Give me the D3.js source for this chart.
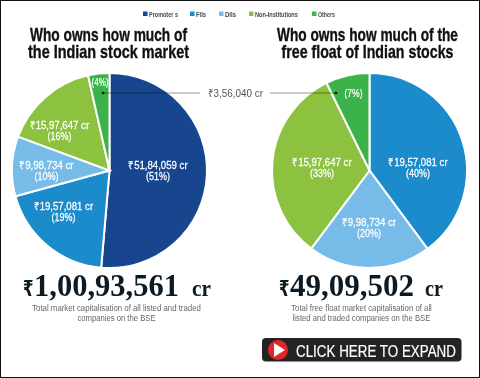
<!DOCTYPE html>
<html>
<head>
<meta charset="utf-8">
<script src="https://cdn.jsdelivr.net/npm/d3@7"></script>
<style>
    html, body { margin: 0; padding: 0; background: #fff; }
    svg { display: block; }
    text { font-family: "Liberation Sans", sans-serif; }
</style>
</head>
<body>
<div id="chart"></div>
<script>
// Data
const categories = ["Promoter s", "FIIs", "DIIs", "Non-Institutions", "Others"];
const marketValues = [5184059, 1957081, 998734, 1597647, 356040];
const marketAmounts = ["₹51,84,059 cr", "₹19,57,081 cr", "₹9,98,734 cr", "₹15,97,647 cr", ""];
const marketShares = ["(51%)", "(19%)", "(10%)", "(16%)", "(4%)"];
const floatCategories = ["FIIs", "DIIs", "Non-Institutions", "Others"];
const floatValues = [1957081, 998734, 1597647, 356040];
const floatAmounts = ["₹19,57,081 cr", "₹9,98,734 cr", "₹15,97,647 cr", ""];
const floatShares = ["(40%)", "(20%)", "(33%)", "(7%)"];
const colors = ["#17468f", "#1b8bcb", "#77bce8", "#8cc23f", "#3bb24a"];

const width = 480, height = 378;
const radius = 97.5;

const svg = d3.select("#chart").append("svg")
    .attr("width", width)
    .attr("height", height);

const colorScale = d3.scaleOrdinal().domain(categories).range(colors);

// No condensed font is installed, so squeeze the text to the width it has in the picture
function fitText(parent, str, x, y, targetWidth, opts) {
    const o = Object.assign({ anchor: "start", size: 10, weight: "normal", fill: "#000", family: null, stroke: 0 }, opts);
    const t = parent.append("text")
        .attr("text-anchor", o.anchor)
        .attr("font-size", o.size)
        .attr("font-weight", o.weight)
        .attr("fill", o.fill)
        .text(str);
    if (o.family) t.style("font-family", o.family);
    if (o.stroke) t.attr("stroke", o.fill).attr("stroke-width", o.stroke);
    const sx = targetWidth / t.node().getComputedTextLength();
    t.attr("transform", `translate(${x},${y}) scale(${sx},1)`);
    return t;
}

// Legend
const legendX = [143, 190, 219, 249, 312];
const legendW = [29, 10, 11, 43, 17];
const legend = svg.append("g");
categories.forEach((c, i) => {
    legend.append("rect")
        .attr("x", legendX[i]).attr("y", 11.5)
        .attr("width", 4.5).attr("height", 4.5)
        .attr("fill", colorScale(c));
    fitText(legend, c, legendX[i] + 6, 16.5, legendW[i], { size: 7, weight: "bold", fill: "#3b4a55" });
});

function drawPie(cx, cy, names, values, amounts, shares, labelOffsets, amountW, shareW) {
    const pie = d3.pie().sort(null);
    const arc = d3.arc().innerRadius(0).outerRadius(radius);
    const g = svg.append("g").attr("transform", `translate(${cx},${cy})`);

    g.selectAll("path")
        .data(pie(values))
        .enter()
        .append("path")
        .attr("d", arc)
        .attr("fill", (d, i) => colorScale(names[i]))
        .attr("stroke", "#fff")
        .attr("stroke-width", 2);

    // Labels sit by hand, same as the original graphic
    names.forEach((n, i) => {
        const [dx, dy] = labelOffsets[i];
        const style = { anchor: "middle", size: 10.5, fill: "#fff", stroke: 0.25 };
        if (amounts[i]) {
            fitText(g, amounts[i], dx, dy - 1.5, amountW[i], style);
            fitText(g, shares[i], dx, dy + 9.5, shareW[i], style);
        } else {
            fitText(g, shares[i], dx, dy + 4, shareW[i], style);
        }
    });
}

drawPie(109.5, 170.5, categories, marketValues, marketAmounts, marketShares,
    [[48.5, 0], [-46, 41], [-63, 0], [-50, -40], [-9.5, -88.5]],
    [59, 59, 54, 59, 0], [24, 24, 24, 24, 17]);
drawPie(369.5, 170.5, floatCategories, floatValues, floatAmounts, floatShares,
    [[48.5, -3], [-0.5, 57], [-47.5, -3], [-16, -77.5]],
    [59, 54, 59, 0], [24, 24, 24, 18]);

// Titles
const titles = [
    { x: 108.5, lines: ["Who owns how much of", "the Indian stock market"], w: [157, 161] },
    { x: 367.5, lines: ["Who owns how much of the", "free float of Indian stocks"], w: [181, 172] }
];
titles.forEach(t => {
    t.lines.forEach((line, i) => {
        fitText(svg, line, t.x, 41 + i * 16.5, t.w[i], { anchor: "middle", size: 18, weight: "bold", fill: "#111", stroke: 0.35 });
    });
});

// Callout for the Others slice, darkened where it crosses the pies
const calloutY = 93;
[[103, 200], [270, 336]].forEach(([x1, x2]) => {
    svg.append("line").attr("x1", x1).attr("x2", x2).attr("y1", calloutY).attr("y2", calloutY)
        .attr("stroke", "#999").attr("stroke-width", 1)
        .style("mix-blend-mode", "multiply");
});
svg.append("circle").attr("cx", 103).attr("cy", calloutY).attr("r", 1.3).attr("fill", "#111");
svg.append("circle").attr("cx", 336).attr("cy", calloutY).attr("r", 1.3).attr("fill", "#111");
fitText(svg, "₹3,56,040 cr", 235.5, calloutY + 4, 55, { anchor: "middle", size: 11, fill: "#555" });

// Totals
const serif = "'Liberation Serif', 'DejaVu Serif', serif";
const totals = [
    { rx: 23, x: 34, w: 145, cx: 192, cw: 19, value: "1,00,93,561", nx: 116.5, nw: [169, 78],
      note: ["Total market capitalisation of all listed and traded", "companies on the BSE"] },
    { rx: 279, x: 290, w: 124, cx: 425, cw: 18, value: "49,09,502", nx: 361.5, nw: [141, 138],
      note: ["Total free float market capitalisation of all", "listed and traded companies on the BSE"] }
];
totals.forEach(t => {
    fitText(svg, "₹", t.rx, 296, 10.5, { size: 22, weight: "bold", fill: "#0c1a24", family: "'DejaVu Sans', sans-serif" });
    fitText(svg, t.value, t.x, 296, t.w, { size: 31, weight: "bold", fill: "#0c1a24", family: serif });
    fitText(svg, "cr", t.cx, 296, t.cw, { size: 23, weight: "bold", fill: "#0c1a24", family: serif });
    t.note.forEach((line, i) => {
        fitText(svg, line, t.nx, 310.5 + i * 10, t.nw[i], { anchor: "middle", size: 9, fill: "#666" });
    });
});

// Expand button
svg.append("rect").attr("x", 262).attr("y", 338).attr("width", 199.5).attr("height", 23.5)
    .attr("rx", 4).attr("fill", "#232323");
svg.append("circle").attr("cx", 278).attr("cy", 350).attr("r", 10).attr("fill", "#e5242a");
svg.append("path").attr("d", d3.line()([[274, 343], [274, 357], [285, 350]]) + "Z").attr("fill", "#fff");
fitText(svg, "CLICK HERE TO EXPAND", 296, 356.5, 160, { size: 17, fill: "#fff", stroke: 0.2 });

// Picture frame
svg.append("rect").attr("x", 0.5).attr("y", 0.5).attr("width", width - 1).attr("height", height - 1)
    .attr("fill", "none").attr("stroke", "#111").attr("stroke-width", 1);
</script>
</body>
</html>
